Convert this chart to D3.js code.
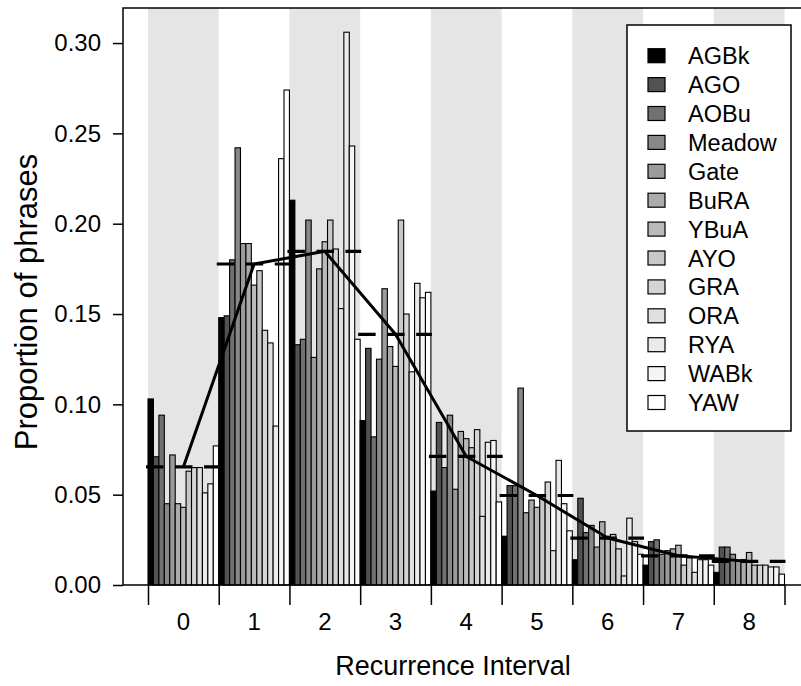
<!DOCTYPE html>
<html>
<head>
<meta charset="utf-8">
<script src="https://cdn.jsdelivr.net/npm/d3@7/dist/d3.min.js"></script>
<style>
  body { margin: 0; background: #fff; }
  text { font-family: "Liberation Sans", Arial, sans-serif; fill: #000; }
</style>
</head>
<body>
<div id="chart"></div>
<script>
// recurrence interval groups and the 13 sites
var groups = ["0","1","2","3","4","5","6","7","8"];
var sites = ["AGBk","AGO","AOBu","Meadow","Gate","BuRA","YBuA","AYO","GRA","ORA","RYA","WABk","YAW"];
var shades = ["#000000","#525252","#717171","#888888","#9b9b9b","#ababab","#bababa",
              "#c8c8c8","#d4d4d4","#e0e0e0","#eaeaea","#f5f5f5","#ffffff"];
var yTicks = [0, 0.05, 0.10, 0.15, 0.20, 0.25, 0.30];

// proportion of phrases per site, one value per interval 0..8
var AGBk   = [0.103, 0.148, 0.213, 0.091, 0.052, 0.027, 0.014, 0.011, 0.007];
var AGO    = [0.071, 0.149, 0.133, 0.131, 0.090, 0.055, 0.048, 0.024, 0.021];
var AOBu   = [0.094, 0.180, 0.136, 0.082, 0.065, 0.055, 0.029, 0.025, 0.021];
var Meadow = [0.045, 0.242, 0.202, 0.125, 0.094, 0.109, 0.033, 0.017, 0.017];
var Gate   = [0.072, 0.189, 0.126, 0.164, 0.053, 0.040, 0.021, 0.019, 0.013];
var BuRA   = [0.045, 0.189, 0.175, 0.132, 0.085, 0.047, 0.035, 0.020, 0.014];
var YBuA   = [0.043, 0.166, 0.190, 0.121, 0.081, 0.043, 0.027, 0.022, 0.018];
var AYO    = [0.063, 0.174, 0.202, 0.202, 0.076, 0.048, 0.028, 0.011, 0.011];
var GRA    = [0.065, 0.141, 0.186, 0.150, 0.086, 0.057, 0.020, 0.015, 0.011];
var ORA    = [0.065, 0.134, 0.153, 0.118, 0.038, 0.019, 0.005, 0.007, 0.011];
var RYA    = [0.051, 0.088, 0.306, 0.167, 0.079, 0.069, 0.037, 0.014, 0.010];
var WABk   = [0.056, 0.236, 0.243, 0.159, 0.080, 0.045, 0.024, 0.014, 0.010];
var YAW    = [0.077, 0.274, 0.136, 0.162, 0.046, 0.030, 0.017, 0.011, 0.006];

var series = [AGBk, AGO, AOBu, Meadow, Gate, BuRA, YBuA, AYO, GRA, ORA, RYA, WABk, YAW];

var W = 801, H = 686;
var pL = 123, pT = 8, pB = 585, pR = 801;

var svg = d3.select("#chart").append("svg")
    .attr("width", W)
    .attr("height", H);

var x = d3.scaleBand().domain(groups).range([148, 784.5]).paddingInner(0).paddingOuter(0);
var xs = d3.scaleBand().domain(sites).range([0, x.bandwidth()]);
var y = d3.scaleLinear().domain([0, 0.3194]).range([pB, pT]);

// alternating grey stripes
svg.selectAll(".stripe")
    .data(groups.filter(function(d,i){ return i % 2 == 0; }))
    .enter().append("rect")
    .attr("class","stripe")
    .attr("x", function(d){ return x(d); })
    .attr("y", pT)
    .attr("width", x.bandwidth())
    .attr("height", pB - pT)
    .style("fill","#e5e5e5");

// bars
var cells = [];
groups.forEach(function(g, gi){
  sites.forEach(function(s, si){
    cells.push({group: g, site: s, idx: si, value: series[si][gi]});
  });
});

svg.selectAll(".bar")
    .data(cells)
    .enter().append("rect")
    .attr("class","bar")
    .attr("x", function(d){ return x(d.group) + xs(d.site); })
    .attr("y", function(d){ return y(d.value); })
    .attr("width", xs.bandwidth())
    .attr("height", function(d){ return pB - y(d.value); })
    .style("fill", function(d){ return shades[d.idx]; })
    .style("stroke","#000")
    .style("stroke-width",1.1);

// group means: dashed segment + solid connecting line
var means = groups.map(function(g, gi){
  return {group: g, mean: d3.mean(series, function(s){ return s[gi]; })};
});

svg.selectAll(".meanseg")
    .data(means)
    .enter().append("line")
    .attr("class","meanseg")
    .attr("x1", function(d){ return x(d.group) - 2; })
    .attr("x2", function(d){ return x(d.group) + x.bandwidth() + 1; })
    .attr("y1", function(d){ return y(d.mean); })
    .attr("y2", function(d){ return y(d.mean); })
    .style("stroke","#000")
    .style("stroke-width",3.2)
    .style("stroke-dasharray","17.5,11.5");

var line = d3.line()
    .x(function(d){ return x(d.group) + x.bandwidth()/2; })
    .y(function(d){ return y(d.mean); });

svg.append("path")
    .datum(means)
    .attr("d", line)
    .style("fill","none")
    .style("stroke","#000")
    .style("stroke-width",3)
    .style("stroke-linejoin","round");

// frame
svg.append("path")
    .attr("d", "M" + pR + "," + pT + "H" + pL + "V" + pB + "H" + pR)
    .style("fill","none")
    .style("stroke","#000")
    .style("stroke-width",1.5);

// y axis
var yAxis = svg.append("g")
    .attr("transform","translate(" + pL + ",0)")
    .call(d3.axisLeft(y).tickValues(yTicks).tickSize(10).tickPadding(12).tickFormat(d3.format(".2f")));
yAxis.select(".domain").remove();
yAxis.selectAll("line").style("stroke","#000").style("stroke-width",1.5);
yAxis.selectAll("text").style("font-size","24px").style("font-family","Liberation Sans, Arial, sans-serif");

// x axis: ticks at group boundaries, labels at centers
var xb = d3.scaleLinear().domain([0, groups.length]).range(x.range());
var xAxis = svg.append("g")
    .attr("transform","translate(0," + pB + ")")
    .call(d3.axisBottom(xb).ticks(groups.length).tickSize(20).tickFormat(""));
xAxis.select(".domain").remove();
xAxis.selectAll("line").style("stroke","#000").style("stroke-width",1.5);

svg.selectAll(".xlab")
    .data(groups)
    .enter().append("text")
    .attr("class","xlab")
    .attr("x", function(d){ return x(d) + x.bandwidth()/2; })
    .attr("y", 630)
    .attr("text-anchor","middle")
    .style("font-size","24px")
    .text(function(d){ return d; });

svg.append("text")
    .attr("x", 453)
    .attr("y", 675)
    .attr("text-anchor","middle")
    .style("font-size","27px")
    .text("Recurrence Interval");

svg.append("text")
    .attr("transform","translate(37,302) rotate(-90)")
    .attr("text-anchor","middle")
    .style("font-size","31px")
    .text("Proportion of phrases");

// legend
var lg = svg.append("g");
lg.append("rect")
    .attr("x",627).attr("y",25)
    .attr("width",164).attr("height",406)
    .style("fill","#fff")
    .style("stroke","#000")
    .style("stroke-width",1.5);

var items = lg.selectAll(".item")
    .data(sites)
    .enter().append("g")
    .attr("class","item")
    .attr("transform", function(d,i){ return "translate(0," + (55.7 + i*28.9) + ")"; });

items.append("rect")
    .attr("x",648).attr("y",-7)
    .attr("width",17).attr("height",14)
    .style("fill", function(d,i){ return shades[i]; })
    .style("stroke","#000")
    .style("stroke-width",1.2);

items.append("text")
    .attr("x",688)
    .attr("y",8.5)
    .style("font-size","23.5px")
    .text(function(d){ return d; });
</script>
</body>
</html>
